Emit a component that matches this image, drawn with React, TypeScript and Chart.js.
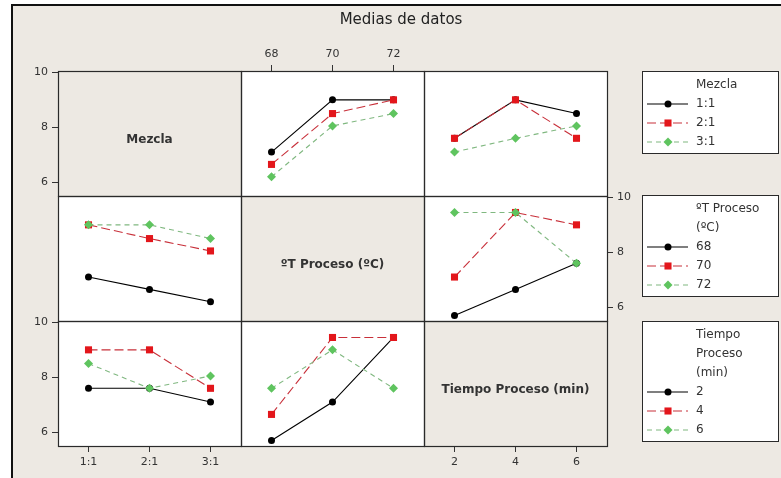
import React, { useEffect, useRef } from 'react';
import { Chart, registerables } from 'chart.js';

Chart.register(...registerables);

// ---- factor levels / tick labels ----
const mezclaLevels = ['1:1', '2:1', '3:1'];
const tempLevels = ['68', '70', '72'];
const tiempoLevels = ['2', '4', '6'];
const yTickValues = [6, 8, 10];

// ---- row 1 / col 2 : Mezcla series across ºT Proceso ----
const m11ByTemp = [7.1, 9.0, 9.0];
const m21ByTemp = [6.65, 8.5, 9.0];
const m31ByTemp = [6.2, 8.05, 8.5];
// ---- row 1 / col 3 : Mezcla series across Tiempo ----
const m11ByTiempo = [7.6, 9.0, 8.5];
const m21ByTiempo = [7.6, 9.0, 7.6];
const m31ByTiempo = [7.1, 7.6, 8.05];
// ---- row 2 / col 1 : ºT series across Mezcla ----
const t68ByMezcla = [7.1, 6.65, 6.2];
const t70ByMezcla = [9.0, 8.5, 8.05];
const t72ByMezcla = [9.0, 9.0, 8.5];
// ---- row 2 / col 3 : ºT series across Tiempo ----
const t68ByTiempo = [5.7, 6.65, 7.6];
const t70ByTiempo = [7.1, 9.45, 9.0];
const t72ByTiempo = [9.45, 9.45, 7.6];
// ---- row 3 / col 1 : Tiempo series across Mezcla ----
const h2ByMezcla = [7.6, 7.6, 7.1];
const h4ByMezcla = [9.0, 9.0, 7.6];
const h6ByMezcla = [8.5, 7.6, 8.05];
// ---- row 3 / col 2 : Tiempo series across ºT ----
const h2ByTemp = [5.7, 7.1, 9.45];
const h4ByTemp = [6.65, 9.45, 9.45];
const h6ByTemp = [7.6, 9.0, 7.6];

const BG = '#EDE9E3';
const FONT = '"DejaVu Sans", Verdana, sans-serif';
const TXT = '#333';

type Sty = { color: string; line: string; dash: number[]; style: string; radius: number; order: number };
const STY: Sty[] = [
  { color: '#000000', line: '#000000', dash: [], style: 'circle', radius: 3.5, order: 3 },
  { color: '#E3161B', line: '#C8303A', dash: [9, 4], style: 'rect', radius: 5, order: 2 },
  { color: '#5FC45F', line: '#80B880', dash: [5, 4], style: 'rectRot', radius: 4.5, order: 1 },
];

function ds(label: string, data: number[], s: Sty, xAxisID: string, yAxisID: string) {
  return {
    label,
    data,
    xAxisID,
    yAxisID,
    borderColor: s.line,
    borderWidth: 1.1,
    borderDash: s.dash,
    pointStyle: s.style,
    pointRadius: s.radius,
    pointBackgroundColor: s.color,
    pointBorderColor: s.color,
    pointBorderWidth: 0,
    fill: false,
    tension: 0,
    order: s.order,
  };
}

const tickFont = { family: FONT, size: 11 };

function xAxis(labels: string[], pos: 'top' | 'bottom', show: boolean, h: number) {
  return {
    type: 'category',
    axis: 'x',
    position: pos,
    stack: 'x' + pos,
    stackWeight: 1,
    labels,
    offset: true,
    grid: { display: show, drawOnChartArea: false, drawTicks: true, tickLength: 6, color: TXT, tickColor: TXT, lineWidth: 1 },
    border: { display: false },
    ticks: { display: show, font: tickFont, color: TXT, padding: 4, maxRotation: 0, autoSkip: false },
    afterFit: (s: any) => { s.height = h; },
  };
}

function yAxis(pos: 'left' | 'right', show: boolean, w: number) {
  return {
    type: 'linear',
    axis: 'y',
    position: pos,
    stack: 'y' + pos,
    stackWeight: 1,
    min: 5.5,
    max: 10.05,
    afterBuildTicks: (s: any) => { s.ticks = yTickValues.map((v) => ({ value: v })); },
    grid: { display: show, drawOnChartArea: false, drawTicks: true, tickLength: 6, color: TXT, tickColor: TXT, lineWidth: 1 },
    border: { display: false },
    ticks: { display: show, font: tickFont, color: TXT, padding: 4 },
    afterFit: (s: any) => { s.width = w; },
  };
}

function drawMarker(ctx: CanvasRenderingContext2D, s: Sty, x: number, y: number) {
  ctx.fillStyle = s.color;
  ctx.beginPath();
  if (s.style === 'circle') {
    ctx.arc(x, y, s.radius, 0, Math.PI * 2);
  } else if (s.style === 'rect') {
    const h = s.radius * Math.SQRT1_2;
    ctx.rect(x - h, y - h, 2 * h, 2 * h);
  } else {
    const r = s.radius;
    ctx.moveTo(x, y - r);
    ctx.lineTo(x + r, y);
    ctx.lineTo(x, y + r);
    ctx.lineTo(x - r, y);
    ctx.closePath();
  }
  ctx.fill();
}

const legends = [
  { title: ['Mezcla'], items: mezclaLevels },
  { title: ['ºT Proceso', '(ºC)'], items: tempLevels },
  { title: ['Tiempo', 'Proceso', '(min)'], items: tiempoLevels },
];

const framePlugin = {
  id: 'frame',
  beforeDraw(chart: any) {
    const { ctx, width, height } = chart;
    ctx.save();
    ctx.fillStyle = '#ffffff';
    ctx.fillRect(0, 0, width, height);
    ctx.fillStyle = BG;
    ctx.fillRect(12, 5, width - 12, height - 5);
    ctx.fillStyle = '#111';
    ctx.fillRect(11, 4, 2, height - 4);
    ctx.fillRect(11, 4, width - 11, 2);
    ctx.fillStyle = '#222';
    ctx.font = '15px ' + FONT;
    ctx.textAlign = 'center';
    ctx.textBaseline = 'middle';
    ctx.fillText('Medias de datos', 401, 20);
    ctx.restore();
  },
  beforeDatasetsDraw(chart: any) {
    const { ctx, scales } = chart;
    const cols = [scales.xb1, scales.xb2, scales.xb3];
    const rows = [scales.yl1, scales.yl2, scales.yl3];
    const diag = ['Mezcla', 'ºT Proceso (ºC)', 'Tiempo Proceso (min)'];
    ctx.save();
    for (let r = 0; r < 3; r++) {
      for (let c = 0; c < 3; c++) {
        const x0 = cols[c].left, x1 = cols[c].right, y0 = rows[r].top, y1 = rows[r].bottom;
        ctx.fillStyle = r === c ? BG : '#ffffff';
        ctx.fillRect(x0, y0, x1 - x0, y1 - y0);
      }
    }
    ctx.strokeStyle = '#2a2a2a';
    ctx.lineWidth = 1.2;
    for (let r = 0; r < 3; r++) {
      for (let c = 0; c < 3; c++) {
        const x0 = cols[c].left, x1 = cols[c].right, y0 = rows[r].top, y1 = rows[r].bottom;
        ctx.strokeRect(Math.round(x0) + 0.5, Math.round(y0) + 0.5, Math.round(x1 - x0), Math.round(y1 - y0));
      }
    }
    ctx.fillStyle = '#333';
    ctx.font = 'bold 12px ' + FONT;
    ctx.textAlign = 'center';
    ctx.textBaseline = 'middle';
    for (let i = 0; i < 3; i++) {
      const cx = (cols[i].left + cols[i].right) / 2;
      const cy = (rows[i].top + rows[i].bottom) / 2 + 6;
      ctx.fillText(diag[i], cx, cy);
    }
    ctx.restore();
  },
  afterDraw(chart: any) {
    const { ctx, chartArea, scales } = chart;
    const rows = [scales.yl1, scales.yl2, scales.yl3];
    const left = chartArea.right + 35;
    const right = chart.width - 3;
    ctx.save();
    legends.forEach((lg, i) => {
      const top = Math.round(rows[i].top) - (i === 1 ? 1 : 0);
      const nLines = lg.title.length + lg.items.length;
      const bottom = top + 14 + (nLines - 1) * 19 + 11;
      ctx.fillStyle = '#ffffff';
      ctx.fillRect(left, top, right - left, bottom - top);
      ctx.strokeStyle = '#2a2a2a';
      ctx.lineWidth = 1;
      ctx.strokeRect(left + 0.5, top + 0.5, right - left, bottom - top);
      ctx.font = '12px ' + FONT;
      ctx.textAlign = 'left';
      ctx.textBaseline = 'middle';
      ctx.fillStyle = TXT;
      let y = top + 14;
      lg.title.forEach((t) => {
        ctx.fillText(t, left + 54, y);
        y += 19;
      });
      lg.items.forEach((t, k) => {
        const s = STY[k];
        ctx.strokeStyle = s.line;
        ctx.lineWidth = 1.1;
        ctx.setLineDash(s.dash);
        ctx.beginPath();
        ctx.moveTo(left + 5, y);
        ctx.lineTo(left + 46, y);
        ctx.stroke();
        ctx.setLineDash([]);
        drawMarker(ctx, s, left + 26, y);
        ctx.fillStyle = TXT;
        ctx.fillText(t, left + 54, y);
        y += 19;
      });
    });
    ctx.restore();
  },
};

export default function App() {
  const ref = useRef<HTMLCanvasElement>(null);
  useEffect(() => {
    const datasets = [
      ds('1:1', m11ByTemp, STY[0], 'xb2', 'yl1'),
      ds('2:1', m21ByTemp, STY[1], 'xb2', 'yl1'),
      ds('3:1', m31ByTemp, STY[2], 'xb2', 'yl1'),
      ds('1:1', m11ByTiempo, STY[0], 'xb3', 'yl1'),
      ds('2:1', m21ByTiempo, STY[1], 'xb3', 'yl1'),
      ds('3:1', m31ByTiempo, STY[2], 'xb3', 'yl1'),
      ds('68', t68ByMezcla, STY[0], 'xb1', 'yr2'),
      ds('70', t70ByMezcla, STY[1], 'xb1', 'yr2'),
      ds('72', t72ByMezcla, STY[2], 'xb1', 'yr2'),
      ds('68', t68ByTiempo, STY[0], 'xb3', 'yr2'),
      ds('70', t70ByTiempo, STY[1], 'xb3', 'yr2'),
      ds('72', t72ByTiempo, STY[2], 'xb3', 'yr2'),
      ds('2', h2ByMezcla, STY[0], 'xb1', 'yl3'),
      ds('4', h4ByMezcla, STY[1], 'xb1', 'yl3'),
      ds('6', h6ByMezcla, STY[2], 'xb1', 'yl3'),
      ds('2', h2ByTemp, STY[0], 'xb2', 'yl3'),
      ds('4', h4ByTemp, STY[1], 'xb2', 'yl3'),
      ds('6', h6ByTemp, STY[2], 'xb2', 'yl3'),
    ];
    const chart = new Chart(ref.current as HTMLCanvasElement, {
      type: 'line',
      data: { datasets } as any,
      options: {
        responsive: false,
        animation: false,
        events: [],
        layout: { padding: { left: 12, top: 5, right: 144, bottom: 0 } },
        plugins: { legend: { display: false }, tooltip: { enabled: false }, title: { display: false } },
        scales: {
          xb1: xAxis(mezclaLevels, 'bottom', true, 32),
          xb2: xAxis(tempLevels, 'bottom', false, 32),
          xb3: xAxis(tiempoLevels, 'bottom', true, 32),
          xt3: xAxis(tiempoLevels, 'top', false, 66),
          xt2: xAxis(tempLevels, 'top', true, 66),
          xt1: xAxis(mezclaLevels, 'top', false, 66),
          yl3: yAxis('left', true, 46),
          yl2: yAxis('left', false, 46),
          yl1: yAxis('left', true, 46),
          yr1: yAxis('right', false, 30),
          yr2: yAxis('right', true, 30),
          yr3: yAxis('right', false, 30),
        } as any,
      },
      plugins: [framePlugin],
    } as any);
    return () => chart.destroy();
  }, []);
  return (
    <div style={{ position: 'fixed', left: 0, top: 0, width: 781, height: 478 }}>
      <canvas ref={ref} width={781} height={478} style={{ display: 'block', width: 781, height: 478 }} />
    </div>
  );
}
